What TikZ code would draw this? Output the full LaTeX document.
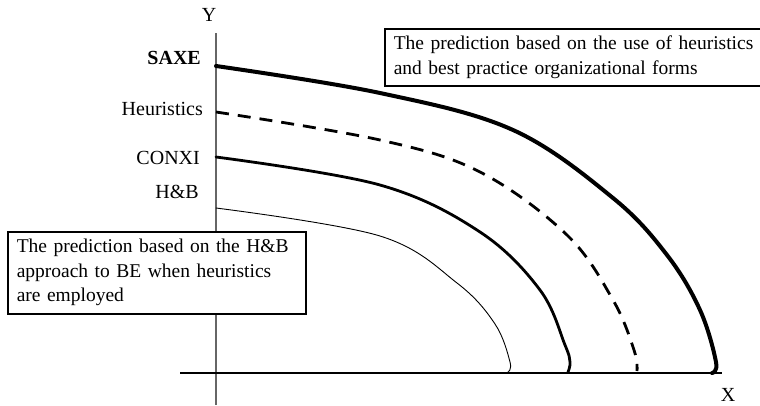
\documentclass[tikz,border=0pt]{standalone}
\usepackage{fontspec}
\setmainfont{Liberation Serif}
\usepackage{tikz}
\usetikzlibrary{positioning}
\tikzset{
  note/.style={rectangle, draw, line width=1.5pt, fill=white, align=left, anchor=north west, inner xsep=9pt, inner ysep=0pt, font=\fontsize{19.5}{24.5}\selectfont},
  levellabel/.style={anchor=east, inner sep=0pt, font=\fontsize{20}{24}\selectfont},
  axislabel/.style={inner sep=0pt, font=\fontsize{20}{24}\selectfont},
  axisline/.style={line width=1.2pt},
  frontier/.style={line cap=round, line join=round}
}

\begin{document}
\begin{tikzpicture}[x=1pt, y=-1pt]
  \useasboundingbox (0,0) rectangle (760,405);
  \coordinate (ytop) at (216,33);
  \coordinate (ybottom) at (216,405);
  \coordinate (xleft) at (180,373);
  \coordinate (xright) at (722,373);
  \draw[axisline, gray!80!black] (ybottom) -- (ytop);
  \draw[axisline] (xleft) -- (xright);
  \node[axislabel] (ylabel) at (209,15) {Y};
  \node[axislabel] (xlabel) at (728,395) {X};
  \node[levellabel, font=\fontsize{20}{24}\selectfont\bfseries] (saxe) at (201,58) {SAXE};
  \node[levellabel] (heur) at (203,109) {Heuristics};
  \node[levellabel] (conxi) at (200,158) {CONXI};
  \node[levellabel] (hb) at (199,192) {H\&B};
  \draw[frontier, line width=4pt] plot[smooth, tension=0.6] coordinates {(216,66) (380,93) (513,130) (613,198) (667,255) (700,310) (716,362) (712,373)};
  \draw[frontier, line width=2.8pt, line cap=butt, dash pattern=on 13pt off 9pt] plot[smooth, tension=0.6] coordinates {(216,112) (380,140) (480,172) (567,235) (613,300) (634,350) (637,371)};
  \draw[frontier, line width=2.8pt] plot[smooth, tension=0.6] coordinates {(216,157) (380,185) (480,232) (540,290) (565,345) (570,362) (568,372)};
  \draw[frontier, line width=0.9pt] plot[smooth, tension=0.6] coordinates {(216,208) (380,236) (457,283) (495,324) (510,362) (508,372)};
  \node[note, text width=380pt, minimum height=57pt] (bestpractice) at (384,28) {The prediction based on the use of heuristics\\and best practice organizational forms};
  \node[note, text width=280pt, minimum height=82pt] (hbnote) at (7,231) {The prediction based on the H\&B\\approach to BE when heuristics\\are employed};
\end{tikzpicture}
\end{document}
